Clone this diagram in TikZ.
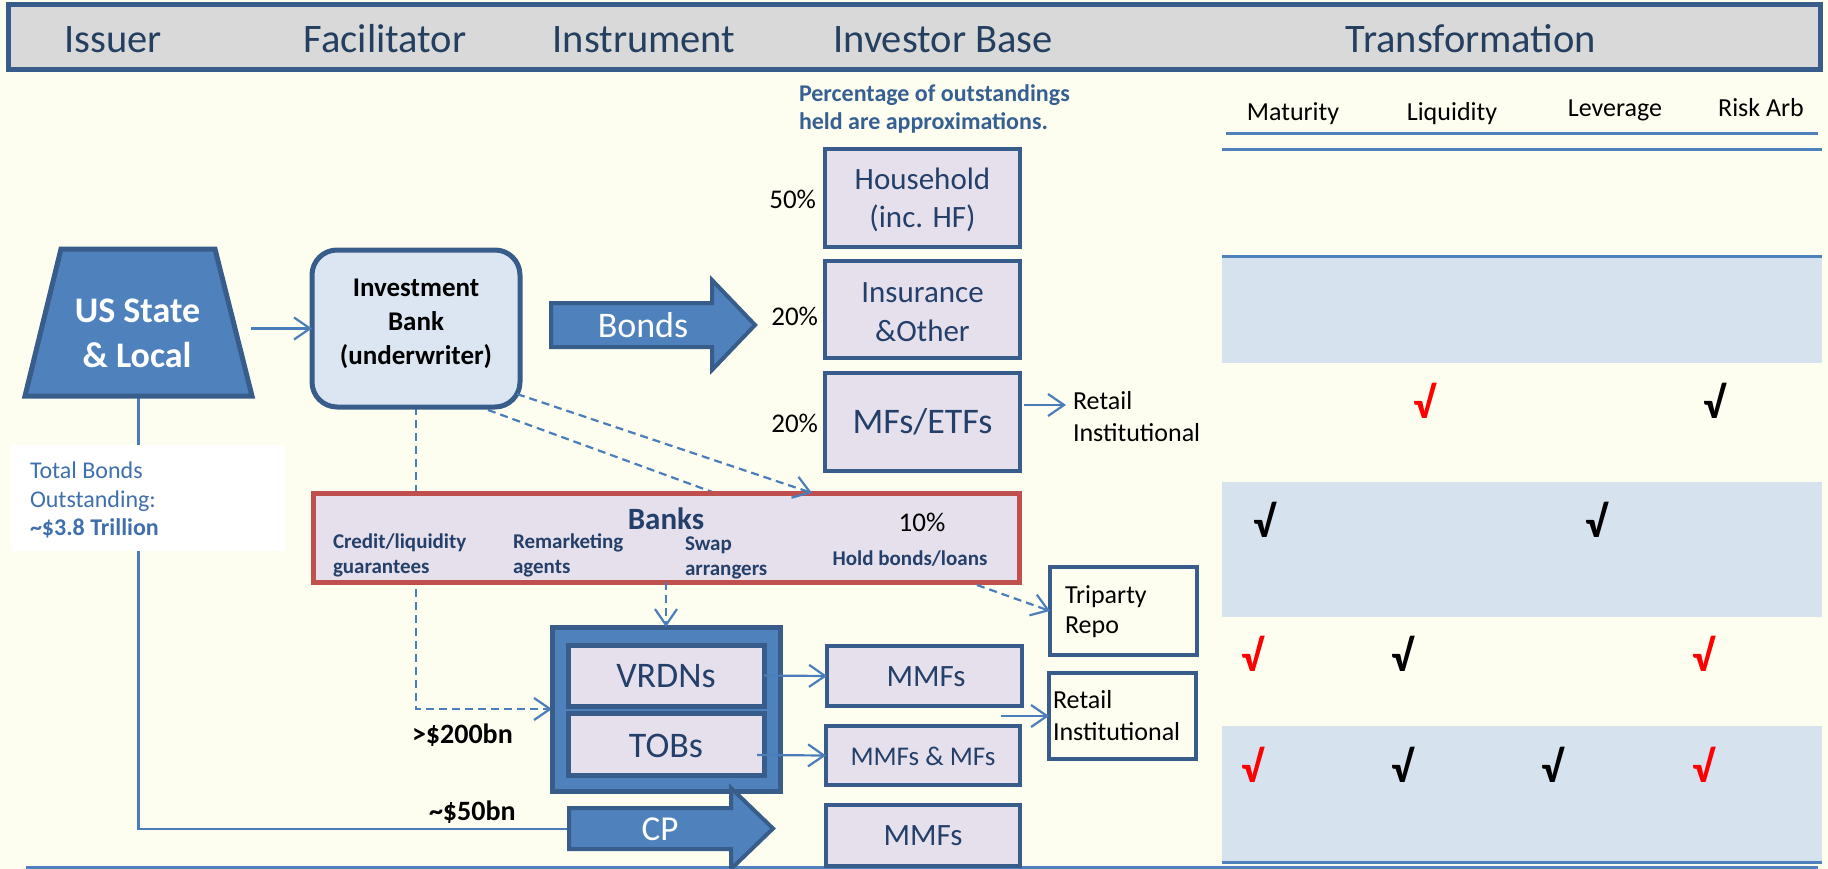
\documentclass[tikz,border=0pt]{standalone}
\usepackage{fontspec}
\setmainfont{Carlito}
\usetikzlibrary{arrows.meta}
\pgfdeclarelayer{bg}\pgfdeclarelayer{mid}
\pgfsetlayers{bg,mid,main}
\definecolor{cream}{HTML}{FEFEF0}
\definecolor{navy}{HTML}{385D8A}
\definecolor{accent}{HTML}{4F81BD}
\definecolor{linebl}{HTML}{4A7EBB}
\definecolor{lav}{HTML}{E6E0EC}
\definecolor{ibfill}{HTML}{DCE6F2}
\definecolor{banksred}{HTML}{C0504D}
\definecolor{hdrfill}{HTML}{D9D9D9}
\definecolor{hdrtext}{HTML}{243F60}
\definecolor{boxtext}{HTML}{24406A}
\definecolor{pctblue}{HTML}{376092}
\definecolor{tbblue}{HTML}{3F6FAD}
\definecolor{band}{HTML}{D7E2EF}
\definecolor{ckred}{HTML}{FF0000}
\newcommand\fsz[2]{\fontsize{#1}{#2}\selectfont}
\begin{document}
\begin{tikzpicture}[x=1pt,y=-1pt,
  every node/.style={inner sep=0pt,outer sep=0pt},
  box/.style={rectangle,draw=navy,line width=4pt,fill=lav},
  obox/.style={rectangle,draw=navy,line width=4pt},
  conn/.style={draw=linebl,line width=2.2pt},
  arr/.style={conn,-{Straight Barb[length=16pt,width=22pt]}},
  darr/.style={arr,dash pattern=on 8pt off 5pt},
  dline/.style={conn,dash pattern=on 8pt off 5pt},
  arrowshape/.style={fill=accent,draw=navy,line width=4pt,line join=miter},
  hdr/.style={anchor=base,text=hdrtext,font=\fsz{40.5}{48}},
  bt/.style={anchor=base,text=boxtext},
  blk/.style={anchor=base,text=black},
  tline/.style={draw=accent,line width=3pt},
  sub/.style={anchor=base west,text=boxtext,font=\bfseries\fsz{21}{25}},
  ck/.style={anchor=base,font=\bfseries\fsz{44}{48}}]
\begin{pgfonlayer}{bg}
\fill[cream] (0,0) rectangle (1828,869);
\end{pgfonlayer}
\useasboundingbox (0,0) rectangle (1828,869);

% header
\node[rectangle,draw=navy,line width=5pt,fill=hdrfill,minimum width=1812pt,minimum height=65pt] (hdrbox) at (914,37.5) {};
\node[hdr] (h1) at (113,53) {Issuer};
\node[hdr] (h2) at (385,53) {Facilitator};
\node[hdr] (h3) at (644,53) {Instrument};
\node[hdr] (h4) at (943,53) {Investor Base};
\node[hdr] (h5) at (1471,53) {Transformation};

% transformation table
\fill[band] (1222,258) rectangle (1822,363);
\fill[band] (1222,482) rectangle (1822,617);
\fill[band] (1222,726) rectangle (1822,862);
\draw[tline] (1226,134) -- (1818,134);
\draw[tline] (1222,150) -- (1822,150);
\draw[tline] (1222,256) -- (1822,256);
\draw[tline] (1222,862) -- (1822,862);
\node[blk,font=\fsz{26}{31}] (c1) at (1293,121) {Maturity};
\node[blk,font=\fsz{26}{31}] (c2) at (1452,121) {Liquidity};
\node[blk,font=\fsz{26}{31}] (c3) at (1615,117) {Leverage};
\node[blk,font=\fsz{26}{31}] (c4) at (1761,117) {Risk Arb};
\node[ck,text=ckred] (k11) at (1424,418) {√};
\node[ck,text=black] (k14) at (1714,418) {√};
\node[ck,text=black] (k21) at (1264,537) {√};
\node[ck,text=black] (k23) at (1596,537) {√};
\node[ck,text=ckred] (k31) at (1252,671) {√};
\node[ck,text=black] (k32) at (1402,671) {√};
\node[ck,text=ckred] (k34) at (1703,671) {√};
\node[ck,text=ckred] (k41) at (1252,782) {√};
\node[ck,text=black] (k42) at (1402,782) {√};
\node[ck,text=black] (k43) at (1552,782) {√};
\node[ck,text=ckred] (k44) at (1703,782) {√};

% bottom line
\draw[tline] (26,867) -- (1818,867);

% note
\node[anchor=base west,text=pctblue,font=\bfseries\fsz{24}{28}] (p1) at (799,102) {Percentage of outstandings};
\node[anchor=base west,text=pctblue,font=\bfseries\fsz{24}{28}] (p2) at (799,130) {held are approximations.};

% issuer
\draw[fill=accent,draw=navy,line width=5pt,line join=miter] (61,249) -- (215,249) -- (252,396) -- (25,396) -- cycle;
\coordinate (ussouth) at (138.5,396);
\node[anchor=base,text=white,font=\bfseries\fsz{36}{43}] (us1) at (137.5,322) {US State};
\node[anchor=base,text=white,font=\bfseries\fsz{36}{43}] (us2) at (137,367) {\& Local};

% total bonds
\node[rectangle,fill=white,minimum width=273pt,minimum height=106pt] (tb) at (148.5,498) {};
\node[anchor=base west,text=tbblue,font=\fsz{24}{29}] (tb1) at (30,478) {Total Bonds};
\node[anchor=base west,text=tbblue,font=\fsz{24}{29}] (tb2) at (30,507) {Outstanding:};
\node[anchor=base west,text=tbblue,font=\bfseries\fsz{24}{29}] (tb3) at (30,535) {\textasciitilde\$3.8 Trillion};

% investment bank
\node[rectangle,rounded corners=25pt,draw=navy,line width=5pt,fill=ibfill,minimum width=208pt,minimum height=157pt] (ib) at (416,328.5) {};
\node[blk,font=\bfseries\fsz{27}{34}] (ib1) at (416,296) {Investment};
\node[blk,font=\bfseries\fsz{27}{34}] (ib2) at (416,330) {Bank};
\node[blk,font=\bfseries\fsz{27}{34}] (ib3) at (416,364) {(underwriter)};

% bonds arrow
\path[arrowshape] (551,303) -- (712,303) -- (712,280) -- (755,325) -- (712,370) -- (712,347) -- (551,347) -- cycle;
\node[anchor=base,text=white,font=\fsz{36}{43}] (bondst) at (643,337) {Bonds};

% investor boxes
\node[box,minimum width=195pt,minimum height=98pt] (hh) at (922.5,198) {};
\node[box,minimum width=195pt,minimum height=97pt] (ins) at (922.5,309.5) {};
\node[box,minimum width=195pt,minimum height=98pt] (mfs) at (922.5,422) {};
\node[bt,font=\fsz{31}{38}] (hh1) at (922.5,190) {Household};
\node[bt,font=\fsz{31}{38}] (hh2) at (922.5,228) {(inc. HF)};
\node[bt,font=\fsz{31}{38}] (ins1) at (922.5,302) {Insurance};
\node[bt,font=\fsz{31}{38}] (ins2) at (922.5,341) {\&Other};
\node[bt,font=\fsz{36}{43}] (mfst) at (922.5,433) {MFs/ETFs};
\node[anchor=base east,font=\fsz{27}{32}] (pc1) at (816,208) {50\%};
\node[anchor=base east,font=\fsz{27}{32}] (pc2) at (818,325) {20\%};
\node[anchor=base east,font=\fsz{27}{32}] (pc3) at (818,432) {20\%};
\node[anchor=base west,font=\fsz{26}{32}] (rt1) at (1073,409) {Retail};
\node[anchor=base west,font=\fsz{26}{32}] (rt2) at (1073,441) {Institutional};
\coordinate (mfsa) at (1066,405);

% banks
\node[rectangle,draw=banksred,line width=5pt,fill=lav,minimum width=706pt,minimum height=89pt] (banks) at (666,537.5) {};
\node[bt,font=\bfseries\fsz{31}{37}] (bk) at (666,529) {Banks};
\node[blk,font=\fsz{27}{32}] (b10) at (922,531) {10\%};
\node[sub] (bc1) at (333,548) {Credit/liquidity};
\node[sub] (bc2) at (333,573) {guarantees};
\node[sub] (br1) at (513,548) {Remarketing};
\node[sub] (br2) at (513,573) {agents};
\node[sub] (bs1) at (685,550) {Swap};
\node[sub] (bs2) at (685,575) {arrangers};
\node[bt,font=\bfseries\fsz{21}{25}] (bh) at (910,565) {Hold bonds/loans};

% instruments
\node[rectangle,draw=navy,line width=5pt,fill=accent,minimum width=228pt,minimum height=164pt] (instr) at (666,709) {};
\node[box,line width=5pt,minimum width=196pt,minimum height=61pt] (vrdn) at (666,675.5) {};
\node[box,line width=5pt,minimum width=196pt,minimum height=62pt] (tob) at (666,744) {};
\node[bt,font=\fsz{36}{43}] (vrdnt) at (666,687) {VRDNs};
\node[bt,font=\fsz{36}{43}] (tobt) at (666,757) {TOBs};

\node[box,minimum width=195pt,minimum height=60pt] (mmf1) at (924.5,676) {};
\node[box,minimum width=194pt,minimum height=59pt] (mmf2) at (923,755.5) {};
\node[box,minimum width=194pt,minimum height=61pt] (mmf3) at (923,835.5) {};
\node[bt,font=\fsz{31}{37}] (m1t) at (926,686) {MMFs};
\node[bt,font=\fsz{27}{32}] (m2t) at (923,765) {MMFs \& MFs};
\node[bt,font=\fsz{31}{37}] (m3t) at (923,845) {MMFs};

\node[obox,minimum width=147pt,minimum height=88pt] (trip) at (1123.5,611) {};
\node[anchor=base west,font=\fsz{26}{30}] (tr1) at (1065,603) {Triparty};
\node[anchor=base west,font=\fsz{26}{30}] (tr2) at (1065,633) {Repo};
\node[obox,minimum width=147pt,minimum height=86pt] (ret) at (1122.5,716) {};
\node[anchor=base west,font=\fsz{26}{32}] (re1) at (1053,708) {Retail};
\node[anchor=base west,font=\fsz{26}{32}] (re2) at (1053,740) {Institutional};
\coordinate (rs) at (1001,716);

% CP arrow
\path[arrowshape] (569,808) -- (731,808) -- (731,788) -- (773,828.5) -- (731,869) -- (731,849) -- (569,849) -- cycle;
\node[anchor=base,text=white,font=\fsz{35}{42}] (cpt) at (660,840) {CP};
\coordinate (cpin) at (569,829);
\coordinate (usout) at (251,328.5);

\node[anchor=base west,font=\bfseries\fsz{28}{34}] (l200) at (412,743) {>\$200bn};
\node[anchor=base west,font=\bfseries\fsz{28}{34}] (l50) at (429,820) {\textasciitilde\$50bn};

% connectors behind boxes
\begin{pgfonlayer}{mid}
\draw[conn] (ussouth) |- (cpin);
\draw[darr] (ib.south) |- (instr.west);
\draw[dline] ([xshift=-32pt,yshift=-3pt]ib.south east) -- ([xshift=49pt]banks.north);
\end{pgfonlayer}

% connectors
\draw[arr] (usout) -- (ib.west);
\draw[darr] ([xshift=-3pt,yshift=13pt]ib.south east) -- ([xshift=146pt]banks.north);
\draw[darr] (banks.south -| instr.north) -- (instr.north);
\draw[darr] ([xshift=311pt,yshift=-3pt]banks.south) -- (trip.west);
\draw[arr] (vrdn.east) -- (mmf1.west);
\draw[arr] ([xshift=-7pt,yshift=-11pt]tob.east) -- (mmf2.west);
\draw[arr] (rs) -- (ret.west);
\draw[arr] ([xshift=4pt,yshift=17pt]mfs.east) -- (mfsa);
\end{tikzpicture}
\end{document}
